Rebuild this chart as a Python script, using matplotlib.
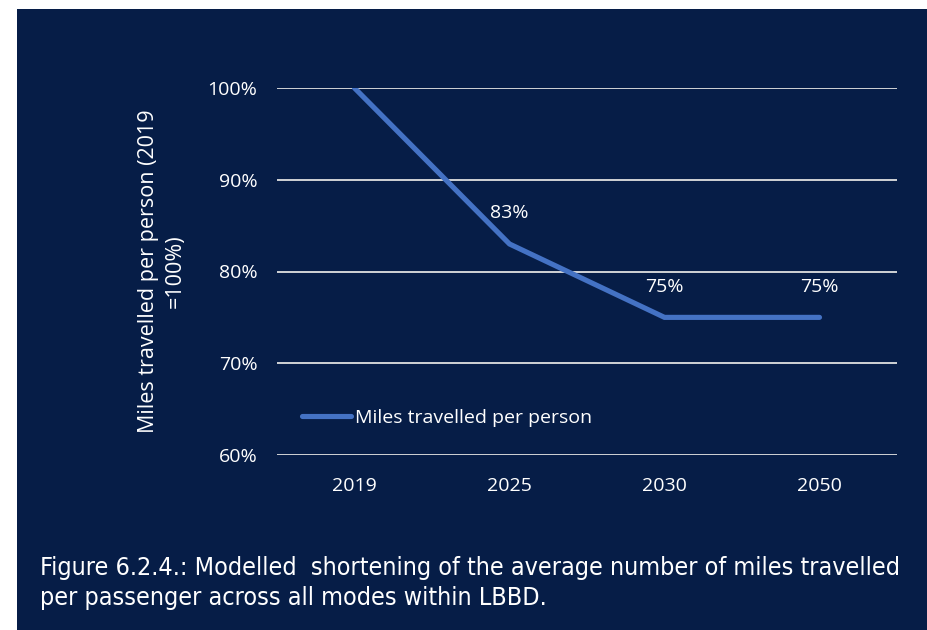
import matplotlib.pyplot as plt
from matplotlib.patches import Rectangle

years = ['2019', '2025', '2030', '2050']
miles_share = [1.00, 0.83, 0.75, 0.75]
labelled = [False, True, True, True]
yticks = [0.6, 0.7, 0.8, 0.9, 1.0]

navy = '#061d47'
blue = '#4472c4'

plt.rcParams['font.family'] = ['Open Sans', 'DejaVu Sans']

fig = plt.figure(figsize=(9.28, 6.3), dpi=100)
fig.patch.set_facecolor('white')
fig.patches.append(Rectangle((17/928, 0), 1 - 17/928, 1 - 9/630,
                             transform=fig.transFigure, facecolor=navy,
                             edgecolor='none', zorder=-5))

ax = fig.add_axes([277/928, 1 - 455/630, 620/928, 367/630])
ax.set_facecolor('none')
ax.set_zorder(5)

x = range(len(years))
ax.plot(x, miles_share, color=blue, lw=3.7, solid_capstyle='round',
        solid_joinstyle='miter', label='Miles travelled per person', zorder=3)
for i, v in enumerate(miles_share):
    if labelled[i]:
        ax.annotate(f'{v:.0%}', (i, v), xytext=(0, 22), textcoords='offset points',
                    ha='center', va='center', color='white', fontsize=14)

ax.set_xlim(-0.5, len(years) - 0.5)
ax.set_ylim(0.6, 1.0)
ax.set_xticks(list(x))
ax.set_xticklabels(years)
ax.set_yticks(yticks)
ax.set_yticklabels([f'{t:.0%}' for t in yticks])
ax.grid(axis='y', color='#e0e0e0', lw=1.3)
ax.set_axisbelow(True)
ax.tick_params(colors='white', labelsize=14, length=0)
ax.tick_params(axis='x', pad=16)
ax.tick_params(axis='y', pad=14)
for s in ax.spines.values():
    s.set_visible(False)

ax.set_ylabel('Miles travelled per person (2019\n=100%)', color='white',
              fontsize=15.5, labelpad=16, linespacing=1.35)

leg = ax.legend(loc='center left', bbox_to_anchor=(0.012, 0.1), frameon=False,
                handlelength=2.5, handletextpad=0.25, fontsize=14)
for t in leg.get_texts():
    t.set_color('white')

fig.text(40/928, 1 - 583/630,
         'Figure 6.2.4.: Modelled  shortening of the average number of miles travelled\n'
         'per passenger across all modes within LBBD.',
         color='white', fontsize=18, va='center', ha='left', linespacing=1.3,
         family=['DejaVu Sans'], fontstretch='condensed', zorder=6)

fig.savefig('out.png', dpi=100)
